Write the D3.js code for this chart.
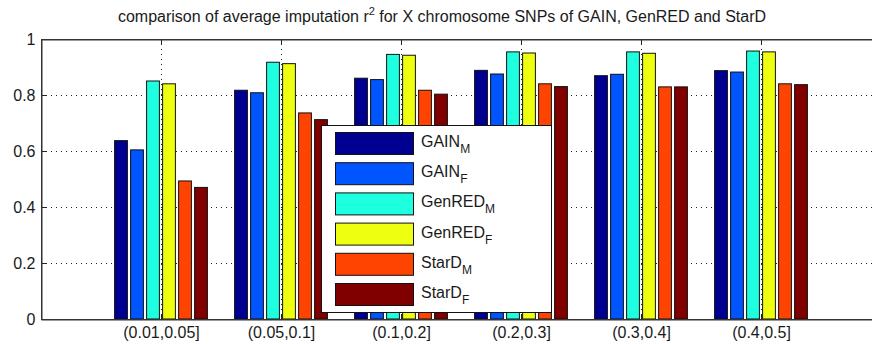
<!DOCTYPE html>
<html>
<head>
<meta charset="utf-8">
<script src="https://cdn.jsdelivr.net/npm/d3@7"></script>
<style>
  body { margin: 0; background: #fff; }
  svg text { font-family: "Liberation Sans", Arial, Helvetica, sans-serif; fill: #1a1a1a; }
</style>
</head>
<body>
<div id="chart"></div>
<script>
// MAF bins on the x axis
const categories = ["(0.01,0.05]", "(0.05,0.1]", "(0.1,0.2]", "(0.2,0.3]", "(0.3,0.4]", "(0.4,0.5]"];

// series: name + subscript
const seriesNames = [["GAIN", "M"], ["GAIN", "F"], ["GenRED", "M"], ["GenRED", "F"], ["StarD", "M"], ["StarD", "F"]];
const seriesColors = ["#000090", "#0055ff", "#1effe0", "#eeff10", "#ff4300", "#800000"];

// average imputation r^2
const gainM   = [0.637, 0.817, 0.860, 0.888, 0.869, 0.887];
const gainF   = [0.604, 0.808, 0.855, 0.875, 0.874, 0.882];
const genredM = [0.850, 0.917, 0.945, 0.954, 0.954, 0.957];
const genredF = [0.840, 0.912, 0.942, 0.950, 0.949, 0.954];
const stardM  = [0.493, 0.736, 0.817, 0.840, 0.829, 0.840];
const stardF  = [0.470, 0.712, 0.803, 0.830, 0.829, 0.837];

const yTicks = [0, 0.2, 0.4, 0.6, 0.8, 1];

const seriesValues = [gainM, gainF, genredM, genredF, stardM, stardF];

const W = 872, H = 344;
const margin = {top: 39, left: 41, bottom: 25};

const svg = d3.select("#chart").append("svg")
    .attr("width", W)
    .attr("height", H);

// MATLAB style: x limits [0, 7], groups centred at 1..6
const x = d3.scaleLinear().domain([0, 7]).range([margin.left, margin.left + 7 * 120]);
const y = d3.scaleLinear().domain([0, 1]).range([H - margin.bottom, margin.top]);

// position of each series inside a group
const inner = d3.scaleBand()
    .domain(d3.range(seriesNames.length))
    .range([-0.4, 0.4])
    .paddingInner(0.2)
    .paddingOuter(0.1);

const x0 = x.range()[0], x1 = x.range()[1];
const y0 = y.range()[0], y1 = y.range()[1];

// grid (drawn below the bars)
const grid = svg.append("g").attr("class", "grid")
    .attr("stroke", "#222")
    .attr("stroke-width", 1)
    .attr("stroke-dasharray", "1,4");

grid.selectAll(".hgrid")
    .data(yTicks.filter(t => t > 0 && t < 1))
    .enter().append("line")
    .attr("x1", x0).attr("x2", x1)
    .attr("y1", d => Math.round(y(d)) + 0.5)
    .attr("y2", d => Math.round(y(d)) + 0.5);

grid.selectAll(".vgrid")
    .data(categories)
    .enter().append("line")
    .attr("x1", (d, i) => Math.round(x(i + 1)) + 0.5)
    .attr("x2", (d, i) => Math.round(x(i + 1)) + 0.5)
    .attr("y1", y1).attr("y2", y0);

// bars
const barData = [];
seriesValues.forEach((vals, s) => {
    vals.forEach((v, i) => barData.push({s: s, i: i, v: v}));
});

svg.append("g").selectAll("rect")
    .data(barData)
    .enter().append("rect")
    .attr("x", d => x(d.i + 1 + inner(d.s)))
    .attr("width", x(inner.bandwidth()) - x(0))
    .attr("y", d => y(d.v))
    .attr("height", d => y(0) - y(d.v))
    .attr("fill", d => seriesColors[d.s])
    .attr("stroke", "#111")
    .attr("stroke-width", 1);

// axes
const yAxis = d3.axisLeft(y)
    .tickValues(yTicks)
    .tickFormat(d3.format("~g"))
    .tickSizeInner(-5)
    .tickSizeOuter(0)
    .tickPadding(6);

const xAxis = d3.axisBottom(x)
    .tickValues(d3.range(1, categories.length + 1))
    .tickFormat(d => categories[d - 1])
    .tickSizeInner(-5)
    .tickSizeOuter(0)
    .tickPadding(7);

const gy = svg.append("g")
    .attr("transform", `translate(${x0 + 0.5},0)`)
    .call(yAxis);

const gx = svg.append("g")
    .attr("transform", `translate(0,${y0 + 0.5})`)
    .call(xAxis);

// top ticks pointing down
const gTop = svg.append("g")
    .attr("transform", `translate(0,${y1 + 0.5})`)
    .call(d3.axisTop(x).tickValues(d3.range(1, categories.length + 1)).tickFormat("").tickSizeInner(-5).tickSizeOuter(0));

[gy, gx, gTop].forEach(g => {
    g.selectAll(".domain").attr("stroke", "#333");
    g.selectAll(".tick line").attr("stroke", "#222");
    g.selectAll("text")
        .style("font-size", "16px")
        .attr("fill", "#1a1a1a");
});

// box around the axes (right edge falls outside the window)
svg.append("rect")
    .attr("x", x0 + 0.5).attr("y", y1 + 0.5)
    .attr("width", x1 - x0).attr("height", y0 - y1)
    .attr("fill", "none")
    .attr("stroke", "#333");

// title
const title = svg.append("text")
    .attr("x", 442)
    .attr("y", 22)
    .attr("text-anchor", "middle")
    .style("font-size", "16px");
title.append("tspan").text("comparison of average imputation r");
title.append("tspan").attr("dy", -7).style("font-size", "11px").text("2");
title.append("tspan").attr("dy", 7).text(" for X chromosome SNPs of GAIN, GenRED and StarD");

// legend
const legend = svg.append("g").attr("transform", "translate(321,125)");
legend.append("rect")
    .attr("x", 0.5).attr("y", 0.5)
    .attr("width", 230).attr("height", 187)
    .attr("fill", "#fff")
    .attr("stroke", "#111");

const rows = legend.selectAll(".row")
    .data(seriesNames)
    .enter().append("g")
    .attr("transform", (d, i) => `translate(0,${7 + i * 30.2})`);

rows.append("rect")
    .attr("x", 14.5).attr("y", 0.5)
    .attr("width", 78).attr("height", 22)
    .attr("fill", (d, i) => seriesColors[i])
    .attr("stroke", "#111");

const lt = rows.append("text")
    .attr("x", 100)
    .attr("y", 15)
    .style("font-size", "16px");
lt.append("tspan").text(d => d[0]);
lt.append("tspan").attr("dy", 6).style("font-size", "12px").text(d => d[1]);
</script>
</body>
</html>
